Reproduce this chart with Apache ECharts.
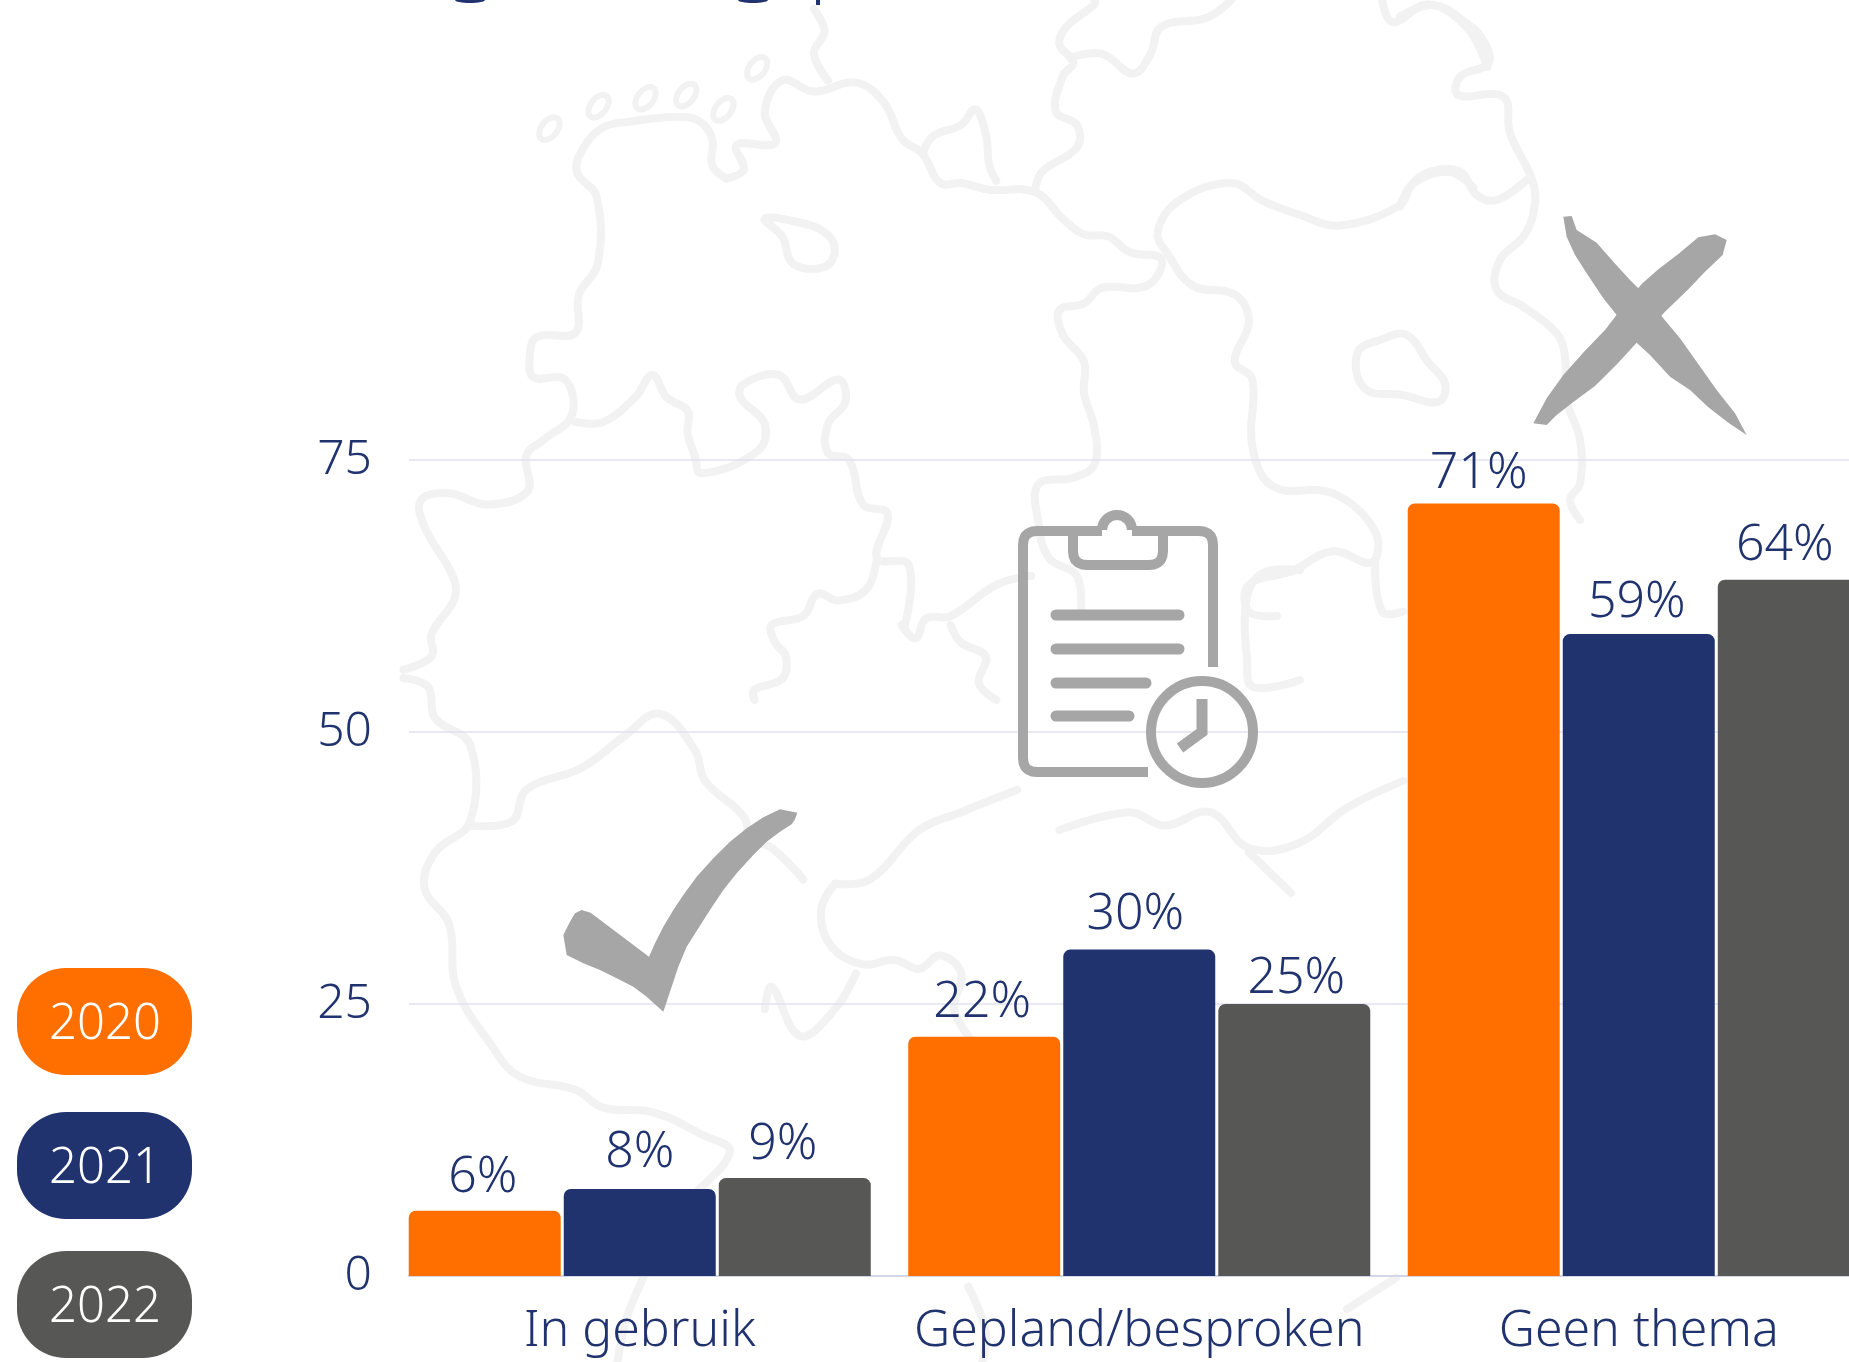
<!DOCTYPE html>
<html>
<head>
<meta charset="utf-8">
<style>html,body{margin:0;padding:0;background:#fff}#main{width:1849px;height:1362px}</style>
<script src="https://cdn.jsdelivr.net/npm/echarts@6/dist/echarts.min.js"></script>
</head>
<body>
<div id="main"></div>
<script>
var categories = ['In gebruik', 'Gepland/besproken', 'Geen thema'];
var years = ['2020', '2021', '2022'];
var values2020 = [6, 22, 71];
var values2021 = [8, 30, 59];
var values2022 = [9, 25, 64];
var yTicks = [0, 25, 50, 75];

var ORANGE = '#ff6f00', NAVY = '#20336f', DARK = '#575756', ICON = '#a6a6a6', MAP = '#f2f2f3';
var FONT = '"Noto Sans", sans-serif';
var yearColors = [ORANGE, NAVY, DARK];
var yearValues = [values2020, values2021, values2022];

// small shifts of the value labels per year, the original ones are not quite centred
var labelNudge = [
  [[-2, -2], [-2, -3], [-5, 1]],
  [[0, -5], [-4, -4], [-2, 0]],
  [[-12, -2], [2, 6], [-9, -3]]
];

function a(p) { return p.map(function (q) { return [400 + q[0] / 1.4255, q[1] / 2.24]; }); }
function b(p) { return p.map(function (q) { return [400 + q[0] / 1.4255, 660 + q[1] / 2.234]; }); }
function c(p) { return p.map(function (q) { return [1400 + q[0] / 3, q[1] / 3]; }); }
function d(p) { return p.map(function (q) { return [540 + q[0] / 3, 790 + q[1] / 3]; }); }

// polyline with its inner corners rounded off
function rounded(pts, r) {
  var out = [pts[0]];
  for (var i = 1; i < pts.length - 1; i++) {
    var p = pts[i], u = pts[i - 1], v = pts[i + 1];
    var lu = Math.hypot(u[0] - p[0], u[1] - p[1]), lv = Math.hypot(v[0] - p[0], v[1] - p[1]);
    var s = [p[0] + (u[0] - p[0]) * r / lu, p[1] + (u[1] - p[1]) * r / lu];
    var e = [p[0] + (v[0] - p[0]) * r / lv, p[1] + (v[1] - p[1]) * r / lv];
    for (var t = 0; t <= 1.001; t += 0.2) {
      out.push([
        (1 - t) * (1 - t) * s[0] + 2 * t * (1 - t) * p[0] + t * t * e[0],
        (1 - t) * (1 - t) * s[1] + 2 * t * (1 - t) * p[1] + t * t * e[1]
      ]);
    }
  }
  out.push(pts[pts.length - 1]);
  return out;
}

var mapLines = [
  a([[465,400],[445,370],[445,310],[425,270],[390,262],[330,272],[290,285],[262,330],[252,385],[280,440],[282,590],[255,660],[250,745],[195,755],[185,800],[190,845],[235,850],[245,930],[205,985],[180,1020],[182,1100],[125,1130],[70,1105],[30,1120],[35,1180],[75,1290],[78,1340],[45,1420],[45,1470],[5,1500]]),
  a([[465,400],[490,380],[480,325],[535,320],[520,250],[545,180],[590,205],[650,185],[690,230],[715,310],[745,345],[770,410],[800,410],[840,425],[905,430],[945,490],[975,525],[1010,530],[1040,565],[1085,580],[1065,640],[1000,645],[975,680],[940,695],[945,750],[975,810],[975,880],[990,960],[990,1040],[960,1070],[910,1085],[910,1170],[925,1250],[965,1290],[970,1380]]),
  a([[590,20],[605,70],[590,120],[610,180]]),
  a([[745,345],[760,305],[800,280],[820,245],[835,300],[840,370],[850,405]]),
  a([[905,430],[915,385],[965,330],[965,280],[935,250],[945,170],[960,140],[940,100],[950,60],[990,10],[990,0]]),
  a([[955,130],[1000,120],[1045,165],[1070,120],[1085,60],[1150,40],[1185,0]]),
  a([[1400,0],[1415,50],[1465,10],[1520,60],[1550,150]]),
  c([[0,50],[100,15],[200,70],[255,130],[265,190],[180,230],[175,285],[310,290],[330,400],[400,550],[400,640],[370,710],[300,780],[290,870],[370,920],[470,1000],[495,1070],[500,1200],[540,1320],[540,1450],[510,1500],[540,1560]]),
  c([[380,540],[290,600],[230,585],[180,515],[90,515],[30,560],[0,620]]),
  a([[1530,420],[1495,385],[1445,410],[1425,460],[1340,505],[1280,480],[1230,450],[1185,410],[1110,450],[1080,520],[1095,570],[1130,640],[1190,660],[1210,720],[1190,810],[1215,850],[1215,1000],[1245,1090],[1330,1105],[1390,1190],[1385,1260],[1330,1235],[1270,1280],[1210,1310],[1210,1370],[1250,1380]]),
  a([[1390,1260],[1400,1370],[1430,1370]]),
  a([[250,945],[290,945],[335,890],[360,840],[380,890],[410,920],[410,970],[420,1020],[430,1060],[510,1010],[520,950],[485,890],[490,860],[540,840],[570,895],[625,850],[635,900],[610,950],[610,1015],[640,1030],[660,1130],[695,1150],[680,1250],[725,1265],[720,1400]]),
  a([[680,1250],[665,1320],[625,1345],[595,1330],[575,1380],[530,1400],[535,1440],[550,1470],[545,1520],[505,1545],[505,1568]]),
  a([[715,1400],[735,1430],[750,1385],[785,1380],[850,1310],[900,1290]]),
  a([[785,1400],[800,1440],[835,1470],[825,1530],[850,1568]]),
  b([[5,40],[40,60],[50,130],[100,190],[100,360],[50,430],[35,510],[70,590],[80,730],[130,860],[170,930],[250,960],[290,1000],[360,1010],[430,1060],[470,1100],[400,1230],[330,1440],[310,1568]]),
  b([[100,370],[160,360],[180,290],[260,240],[320,170],[370,120],[420,200],[435,270],[490,350],[500,400],[530,420],[575,490]]),
  b([[620,500],[600,560],[615,640],[660,680],[705,670],[740,690],[770,660],[800,700],[790,780],[815,850]]),
  b([[620,500],[670,490],[740,380],[800,340],[880,290]]),
  b([[940,380],[1040,340],[1090,370],[1155,340],[1210,420],[1280,410],[1350,330],[1430,270]]),
  b([[1210,430],[1270,520]]),
  b([[520,780],[530,730],[570,840],[620,780],[650,700]]),
  b([[1350,1450],[1420,1380]]),
  b([[810,1400],[835,1500],[830,1568]]),
  [[1300,570],[1263,573],[1247,597],[1247,660],[1253,687],[1300,680]]
];
var mapLoops = [
  a([[1365,790],[1400,760],[1435,750],[1465,810],[1490,860],[1480,900],[1430,885],[1375,870]]),
  a([[520,490],[560,495],[605,520],[620,560],[605,598],[560,590],[545,530]])
];
var mapBlobs = a([[213,288],[283,238],[350,220],[408,213],[461,245],[509,153]]);

var checkMark = d([[125,360],[152,368],[327,500],[345,460],[370,410],[400,360],[430,315],[470,260],[520,205],[570,155],[620,115],[670,82],[720,58],[772,68],[765,88],[755,103],[720,125],[680,155],[640,195],[590,250],[550,300],[510,360],[475,415],[440,470],[415,530],[395,590],[370,665],[320,620],[280,590],[230,565],[180,540],[130,520],[80,495],[70,435],[90,395],[105,370]]);
var crossA = c([[490,650],[515,648],[530,690],[590,728],[640,785],[690,840],[730,880],[790,955],[840,1015],[890,1085],[950,1170],[1005,1240],[1040,1305],[985,1268],[925,1222],[870,1170],[810,1130],[750,1065],[690,1010],[650,945],[610,895],[560,820],[525,765],[500,710]]);
var crossB = c([[980,720],[968,765],[915,815],[865,868],[795,935],[725,1012],[655,1088],[585,1158],[515,1210],[470,1245],[440,1275],[400,1270],[440,1195],[490,1125],[555,1052],[615,990],[665,925],[725,852],[775,808],[835,762],[895,712],[945,703]]);

var graphics = [];
mapLines.forEach(function (pts) {
  graphics.push({ type: 'polyline', z: -1, shape: { points: pts, smooth: 0.4 }, style: { stroke: MAP, lineWidth: 8, fill: null, lineJoin: 'round', lineCap: 'round' } });
});
mapLoops.forEach(function (pts) {
  graphics.push({ type: 'polygon', z: -1, shape: { points: pts, smooth: 0.4 }, style: { stroke: MAP, lineWidth: 8, fill: null } });
});
mapBlobs.forEach(function (p) {
  graphics.push({ type: 'ellipse', z: -1, originX: p[0], originY: p[1], rotation: 0.9, shape: { cx: p[0], cy: p[1], rx: 13, ry: 8 }, style: { stroke: MAP, lineWidth: 6, fill: null } });
});

// the bottom edge of the title line, cut off by the picture
[[470, 0, 15], [753, 0, 15]].forEach(function (t) {
  graphics.push({ type: 'ellipse', shape: { cx: t[0], cy: t[1], rx: t[2], ry: 3 }, style: { fill: NAVY } });
});
graphics.push({ type: 'rect', shape: { x: 816, y: 0, width: 4, height: 5 }, style: { fill: NAVY } });

// icons
graphics.push({ type: 'polygon', z: 1, shape: { points: checkMark }, style: { fill: ICON } });
graphics.push({ type: 'polygon', z: 1, shape: { points: crossA }, style: { fill: ICON } });
graphics.push({ type: 'polygon', z: 1, shape: { points: crossB }, style: { fill: ICON } });

var iconLine = { stroke: ICON, lineWidth: 10, fill: null, lineJoin: 'round' };
graphics.push({ type: 'polyline', z: 1, shape: { points: rounded([[1102, 531], [1023, 531], [1023, 772], [1148, 772]], 14) }, style: iconLine });
graphics.push({ type: 'polyline', z: 1, shape: { points: rounded([[1132, 531], [1213, 531], [1213, 667]], 14) }, style: iconLine });
graphics.push({ type: 'arc', z: 1, shape: { cx: 1117, cy: 530, r: 15, startAngle: Math.PI, endAngle: Math.PI * 2, clockwise: true }, style: { stroke: ICON, lineWidth: 10, fill: null } });
graphics.push({ type: 'polyline', z: 1, shape: { points: rounded([[1073, 531], [1073, 565], [1163, 565], [1163, 531]], 14) }, style: iconLine });
[[1056, 1179, 615], [1056, 1179, 649], [1056, 1146, 683], [1056, 1129, 716]].forEach(function (l) {
  graphics.push({ type: 'line', z: 1, shape: { x1: l[0], y1: l[2], x2: l[1], y2: l[2] }, style: { stroke: ICON, lineWidth: 11, lineCap: 'round' } });
});
graphics.push({ type: 'circle', z: 1, shape: { cx: 1202, cy: 732, r: 51 }, style: { stroke: ICON, lineWidth: 10, fill: 'rgba(255,255,255,0)' } });
graphics.push({ type: 'polyline', z: 1, shape: { points: [[1202, 699], [1202, 732], [1180, 748]] }, style: { stroke: ICON, lineWidth: 11, fill: null } });

// year pills on the left
var pillTops = [968, 1112, 1251];
years.forEach(function (y, i) {
  graphics.push({ type: 'rect', shape: { x: 17, y: pillTops[i], width: 175, height: 107, r: 49 }, style: { fill: yearColors[i] } });
  graphics.push({ type: 'text', x: 105, y: pillTops[i] + 57, z: 3, style: { text: y, fill: '#fff', font: '300 49px ' + FONT, textAlign: 'center', textVerticalAlign: 'middle' } });
});

var series = years.map(function (y, i) {
  return {
    name: y,
    type: 'bar',
    xAxisIndex: 1,
    yAxisIndex: 1,
    barGap: '2%',
    barCategoryGap: '7.5%',
    itemStyle: { color: yearColors[i], borderRadius: [7, 7, 0, 0] },
    label: {
      show: true,
      position: 'top',
      distance: 6,
      formatter: '{c}%',
      color: NAVY,
      fontFamily: FONT,
      fontWeight: 300,
      fontSize: 50
    },
    data: yearValues[i].map(function (v, k) {
      return { value: v, label: { offset: labelNudge[i][k] } };
    })
  };
});

var chart = echarts.init(document.getElementById('main'));
chart.setOption({
  animation: false,
  backgroundColor: '#fff',
  graphic: graphics,
  grid: [
    { left: 409, right: 0, top: 460, height: 816, outerBoundsMode: 'none' },
    { left: 390, width: 1498.5, top: 460, height: 816, outerBoundsMode: 'none' }
  ],
  xAxis: [
    {
      gridIndex: 0, type: 'value', min: 0, max: 1,
      axisLine: { show: true, lineStyle: { color: '#d3d6e8', width: 2 } },
      axisTick: { show: false }, axisLabel: { show: false }, splitLine: { show: false }
    },
    {
      gridIndex: 1, type: 'category', data: categories,
      axisLine: { show: false }, axisTick: { show: false },
      axisLabel: { color: NAVY, fontFamily: FONT, fontWeight: 300, fontSize: 50, margin: 31, interval: 0 }
    }
  ],
  yAxis: [
    {
      gridIndex: 0, type: 'value', min: 0, max: 75, interval: 25,
      axisLine: { show: false }, axisTick: { show: false },
      axisLabel: {
        color: NAVY, fontFamily: FONT, fontWeight: 300, fontSize: 48, margin: 37,
        padding: [14, 0, 0, 0],
        customValues: yTicks
      },
      splitLine: { lineStyle: { color: '#e2e2f0', width: 1.5 } }
    },
    { gridIndex: 1, type: 'value', min: 0, max: 75, show: false }
  ],
  series: series
});
</script>
</body>
</html>
